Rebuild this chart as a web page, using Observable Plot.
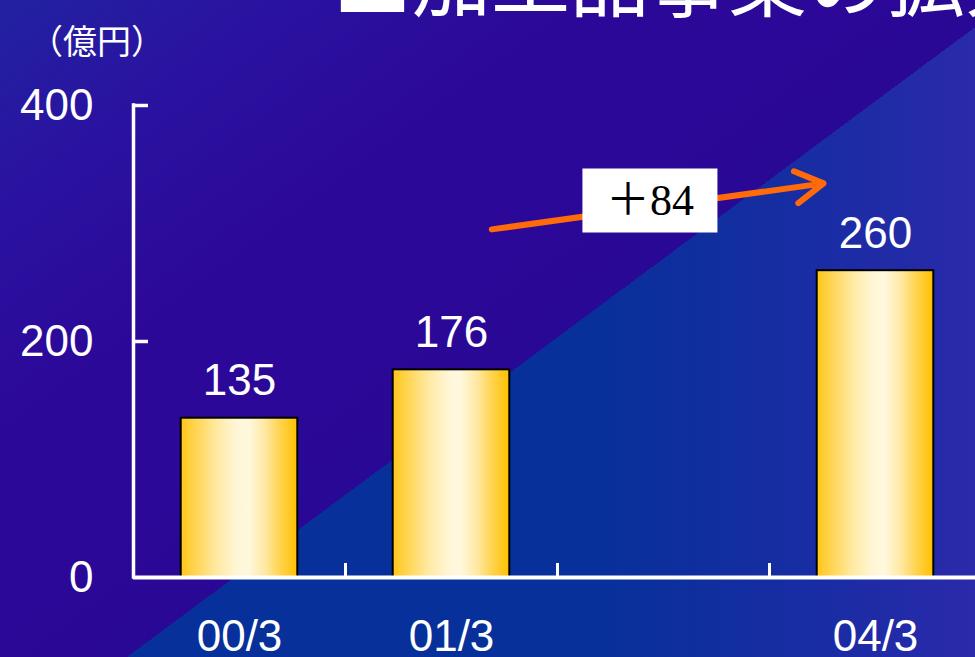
<!DOCTYPE html>
<html><head><meta charset="utf-8">
<script src="https://cdn.jsdelivr.net/npm/d3@7"></script>
<script src="https://cdn.jsdelivr.net/npm/@observablehq/plot@0.6"></script>
<style>
html,body{margin:0;padding:0;width:975px;height:657px;overflow:hidden;}
body{position:relative;background:
 linear-gradient(143.4deg, #2222a2 0%, #2a12a0 15%, #2c0898 32%, #2a0896 54.4%, rgba(42,8,150,0) 54.4%),
 linear-gradient(90deg, #06309a 0%, #08309a 62%, #1a2ca4 85%, #2a2aaa 100%);}
#title{position:absolute;left:333px;top:-63px;font:79px/1 "Noto Sans CJK JP";color:#fff;white-space:nowrap;}
#unit{position:absolute;left:29px;top:23px;font:34px/1 "Noto Sans CJK JP";color:#fff;white-space:nowrap;}
#chart{position:absolute;left:0;top:0;}
</style></head><body>
<div id="chart"></div>
<div id="title">■加工品事業の拡大</div>
<div id="unit">（億円）</div>
<script>
// categories along the x axis (one empty slot between 01/3 and 04/3)
const categories = ["00/3", "01/3", "", "04/3"];
// sales (億円)
const values = [135, 176, null, 260];
// y tick values
const yTicks = [0, 200, 400];
// growth annotation: arrow in axis units (category index, 億円) and its label
const growthArrow = [{x1: 1.69, y1: 295, x2: 3.255, y2: 334}];
const growthLabel = [{x: 2.436, y: 319.5, text: "＋84"}];

const barWidth = 0.55;
const bars = categories.map((c, i) => ({c, i, v: values[i]})).filter(d => d.v != null);
const labelPos = categories.map((c, i) => i + 0.5).filter((_, i) => categories[i] !== "");
const boxSymbol = {draw(ctx) { ctx.rect(-67.5, -32, 135, 64); }};
const numFont = "'Liberation Sans', Arial, sans-serif";

const chart = Plot.plot({
  width: 975, height: 657,
  marginLeft: 133, marginRight: -6, marginTop: 105, marginBottom: 80,
  x: {domain: [0, categories.length], axis: null},
  y: {domain: [0, 400], axis: null},
  style: {background: "transparent", overflow: "visible"},
  marks: [
    Plot.rectY(bars, {
      x1: d => d.i + (1 - barWidth) / 2, x2: d => d.i + (1 + barWidth) / 2,
      y1: 0, y2: "v", fill: "url(#barGrad)", stroke: "#000", strokeWidth: 2
    }),
    Plot.text(bars, {
      x: d => d.i + 0.5, y: "v", text: d => String(d.v), dy: -23, lineAnchor: "bottom",
      fill: "white", fontSize: 44, fontFamily: numFont
    }),
    Plot.ruleY([0], {stroke: "white", strokeWidth: 4}),
    Plot.ruleX([0], {y1: 0, y2: 400, stroke: "white", strokeWidth: 3.5, strokeLinecap: "square"}),
    Plot.axisY({ticks: yTicks.filter(t => t > 0), tickSize: -15, tickFormat: () => "", stroke: "white", strokeWidth: 3.5}),
    Plot.axisY({ticks: yTicks, tickSize: 0, tickPadding: 40, fontSize: 44, fontFamily: numFont, fill: "white", color: "white"}),
    Plot.axisX({ticks: [1, 2, 3], tickSize: -14, tickFormat: () => "", stroke: "white", strokeWidth: 3}),
    Plot.axisX({ticks: labelPos, tickSize: 0, tickPadding: 42, tickFormat: d => categories[Math.floor(d)], fontSize: 44, fontFamily: numFont, fill: "white", color: "white"}),
    Plot.arrow(growthArrow, {x1: "x1", y1: "y1", x2: "x2", y2: "y2", stroke: "#ff6a0a", strokeWidth: 6}),
    Plot.dot(growthLabel, {x: "x", y: "y", symbol: boxSymbol, fill: "white", stroke: "none"}),
    Plot.text(growthLabel, {x: "x", y: "y", text: "text", fill: "black", fontSize: 44, fontFamily: "'Liberation Serif', 'Noto Sans CJK JP', serif"})
  ]
});

const ns = "http://www.w3.org/2000/svg";
const defs = document.createElementNS(ns, "defs");
defs.innerHTML = `<linearGradient id="barGrad" x1="0" x2="1" y1="0" y2="0">
  <stop offset="0%" stop-color="#ffc518"/>
  <stop offset="8%" stop-color="#ffcf3c"/>
  <stop offset="30%" stop-color="#ffe9a0"/>
  <stop offset="48%" stop-color="#fff6d6"/>
  <stop offset="58%" stop-color="#fff8de"/>
  <stop offset="72%" stop-color="#ffe9a4"/>
  <stop offset="86%" stop-color="#ffd24a"/>
  <stop offset="100%" stop-color="#ffc000"/>
</linearGradient>`;
chart.insertBefore(defs, chart.firstChild);
document.getElementById("chart").appendChild(chart);
</script>
</body></html>
